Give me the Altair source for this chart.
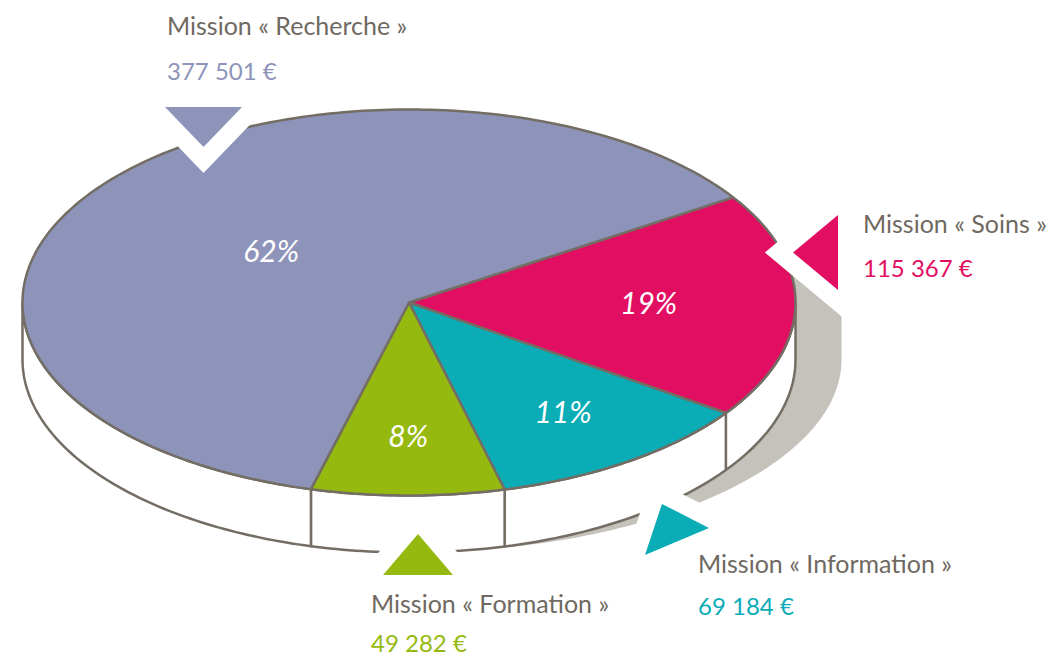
import math
import altair as alt
import pandas as pd

# ---------------- data ----------------
missions = ["Soins", "Information", "Formation", "Recherche"]
amounts = [115367, 69184, 49282, 377501]
colors = ["#e10e62", "#0aacb6", "#96b910", "#8e94b9"]

# ---------------- layout / style ----------------
W, H = 1044, 651
OFF = 8
CX, CY = 409.0, 302.5
RX, RY = 386.5, 193.0
DEPTH = 57.0
START = -33.0          # degrees, clockwise from 3 o'clock
SHADOW_GROW = 46.0
OUTLINE = "#736d64"
SHADOW = "#c5c1bb"
TEXT_GRAY = "#6f6961"
FONT = "Lato"
LABEL_R = {"Soins": 0.62, "Information": 0.70, "Formation": 0.70, "Recherche": 0.44}

# callout placement (triangle marker + labels) per mission
callout_layout = {
    "Soins":       dict(tx=815.5, ty=252.5, path="M0.6,-1L0.6,1L-0.6,0Z", size=5625, lx=863, ly1=233, ly2=277),
    "Information": dict(tx=677.0, ty=529.5, path="M-0.47,-0.8L1,-0.05L-1,0.8Z", size=4096, lx=698, ly1=573, ly2=615),
    "Formation":   dict(tx=418.0, ty=554.5, path="M0,-0.586L1,0.586L-1,0.586Z", size=4900, lx=371, ly1=613, ly2=652),
    "Recherche":   dict(tx=203.5, ty=127.0, path="M-1,-0.52L1,-0.52L0,0.52Z", size=5929, lx=167, ly1=35, ly2=80),
}


def pt(t_deg, rx=RX, dy=0.0):
    t = math.radians(t_deg)
    return [CX + rx * math.cos(t), CY + RY * math.sin(t) + dy]


def arc(a0, a1, rx=RX, dy=0.0, step=1.0):
    n = max(2, int(math.ceil(abs(a1 - a0) / step)) + 1)
    return [pt(a0 + (a1 - a0) * i / (n - 1), rx, dy) for i in range(n)]


total = float(sum(amounts))
bounds = []
a = START
for v in amounts:
    b = a + 360.0 * v / total
    bounds.append((a, b))
    a = b

features = []

# shadow (drawn first, behind the pie)
shadow_ring = [[CX, CY]] + arc(-15, 0, RX + SHADOW_GROW) + arc(0, 90, RX + SHADOW_GROW, DEPTH) + [[CX, CY]]
features.append({"type": "Feature", "geometry": {"type": "Polygon", "coordinates": [shadow_ring]},
                 "properties": {"fill": SHADOW, "stroke": SHADOW, "sw": 0}})

# side walls (front half only)
for (a0, a1) in bounds:
    for k in (-360.0, 0.0, 360.0):
        lo, hi = max(a0, k), min(a1, k + 180.0)
        if hi > lo:
            ring = arc(lo, hi) + arc(hi, lo, RX, DEPTH)
            ring.append(ring[0])
            features.append({"type": "Feature", "geometry": {"type": "Polygon", "coordinates": [ring]},
                             "properties": {"fill": "#ffffff", "stroke": OUTLINE, "sw": 2.5}})

# top face slices
for (a0, a1), col in zip(bounds, colors):
    ring = [[CX, CY]] + arc(a0, a1) + [[CX, CY]]
    features.append({"type": "Feature", "geometry": {"type": "Polygon", "coordinates": [ring]},
                     "properties": {"fill": col, "stroke": OUTLINE, "sw": 2.5}})

# percentage labels
pct_rows = []
for m, (a0, a1), v in zip(missions, bounds, amounts):
    share = v / total
    f = LABEL_R[m]
    mid = math.radians((a0 + a1) / 2)
    pct_rows.append({"x": CX + f * RX * math.cos(mid), "y": CY + f * RY * math.sin(mid),
                     "label": f"{round(share * 100)}%"})
pct_df = pd.DataFrame(pct_rows)

# callouts
rows = []
for m, v, col in zip(missions, amounts, colors):
    d = dict(callout_layout[m])
    d.update({"title": f"Mission « {m} »", "value": f"{v:,}".replace(",", " ") + " €", "color": col})
    rows.append(d)
call_df = pd.DataFrame(rows)

proj = dict(type="identity", scale=1, translate=[-OFF, -OFF])

shapes = alt.Chart(alt.Data(values=features)).mark_geoshape(strokeJoin="round").encode(
    fill=alt.Fill("properties.fill:N", scale=None),
    stroke=alt.Stroke("properties.stroke:N", scale=None),
    strokeWidth=alt.StrokeWidth("properties.sw:Q", scale=None),
).project(**proj)

pct = alt.Chart(pct_df).mark_text(font=FONT, fontSize=30, fontStyle="italic", color="white",
                                  align="center", baseline="middle").encode(
    longitude="x:Q", latitude="y:Q", text="label:N").project(**proj)

tri_white = alt.Chart(call_df).mark_point(filled=True, fill="white", stroke="white", strokeWidth=36,
                                          strokeJoin="miter", opacity=1).encode(
    longitude="tx:Q", latitude="ty:Q",
    shape=alt.Shape("path:N", scale=None),
    size=alt.Size("size:Q", scale=None)).project(**proj)

tri_col = alt.Chart(call_df).mark_point(filled=True, opacity=1, strokeWidth=0).encode(
    longitude="tx:Q", latitude="ty:Q",
    shape=alt.Shape("path:N", scale=None),
    size=alt.Size("size:Q", scale=None),
    color=alt.Color("color:N", scale=None)).project(**proj)

titles = alt.Chart(call_df).mark_text(font=FONT, fontSize=25, color=TEXT_GRAY,
                                      align="left", baseline="alphabetic").encode(
    longitude="lx:Q", latitude="ly1:Q", text="title:N").project(**proj)

values = alt.Chart(call_df).mark_text(font=FONT, fontSize=24, align="left", baseline="alphabetic").encode(
    longitude="lx:Q", latitude="ly2:Q", text="value:N",
    color=alt.Color("color:N", scale=None)).project(**proj)

chart = alt.layer(shapes, pct, tri_white, tri_col, titles, values).properties(
    width=W, height=H, padding=0, autosize=alt.AutoSizeParams(type="none"), background="white"
).configure_view(stroke=None)

chart.save("out.html", embed_options={"renderer": "svg", "actions": False})
